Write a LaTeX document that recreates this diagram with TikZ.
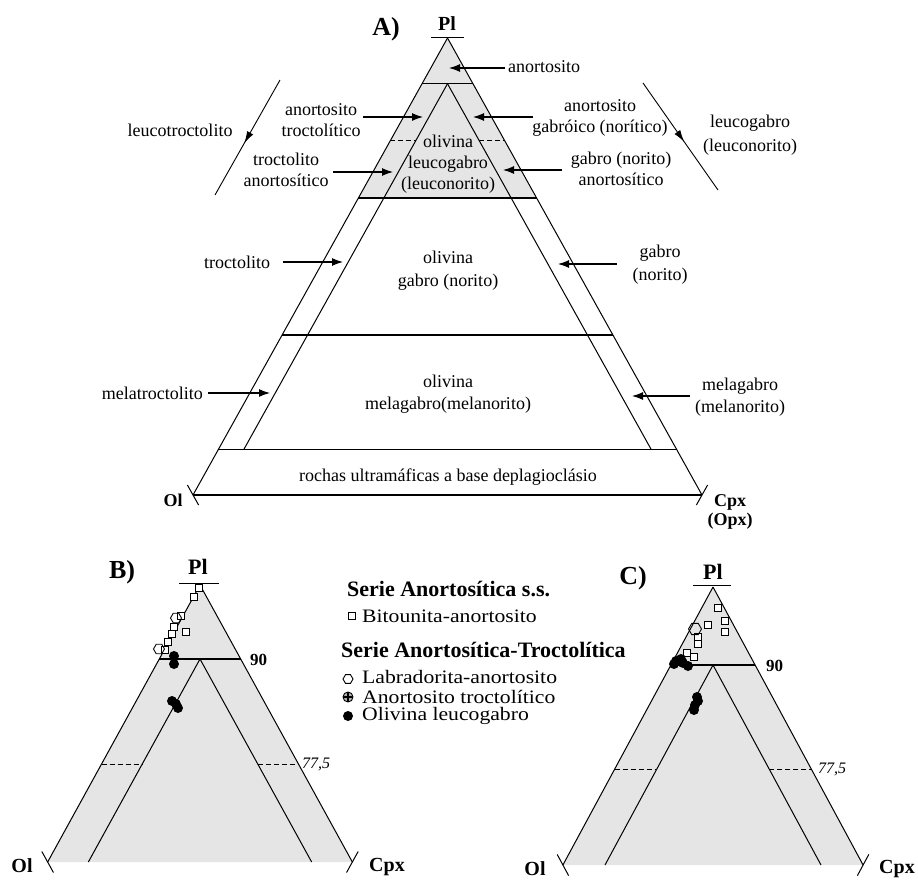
\documentclass[tikz,border=0pt]{standalone}
\usepackage{fontspec}
\setmainfont{Liberation Serif}
\newfontfamily\legfont[FakeStretch=1.14]{Liberation Serif}
\usetikzlibrary{arrows.meta,decorations.markings,shapes.geometric}
\definecolor{fillgray}{RGB}{229,229,229}
\begin{document}
\begin{tikzpicture}[x=1pt,y=-1pt,
  edge/.style={line width=1pt},
  hline/.style={line width=1.2pt},
  dashline/.style={line width=1pt,dash pattern=on 5pt off 3pt},
  ptr/.style={line width=1.1pt,-{Latex[length=11pt,width=8pt]}},
  slant/.style={line width=0.9pt,postaction={decorate},
    decoration={markings,mark=at position 0.55 with {\arrow{Latex[length=12pt,width=7pt]}}}},
  lbl/.style={font=\fontsize{18}{21}\selectfont,align=center,inner sep=0pt},
  corner/.style={font=\bfseries\fontsize{18}{20}\selectfont,align=center,inner sep=0pt},
  bcorner/.style={font=\bfseries\fontsize{20}{22}\selectfont,inner sep=0pt},
  panel/.style={font=\bfseries\fontsize{26}{28}\selectfont,inner sep=0pt},
  val/.style={font=\bfseries\fontsize{17}{19}\selectfont,inner sep=0pt,anchor=west},
  vali/.style={font=\itshape\fontsize{16}{18}\selectfont,inner sep=0pt,anchor=west},
  legh/.style={font=\bfseries\fontsize{22}{24}\selectfont,inner sep=0pt,anchor=west},
  legt/.style={font=\legfont\fontsize{19}{20}\selectfont,inner sep=0pt,anchor=west},
  sq/.style={draw,fill=white,rectangle,minimum size=7.5pt,inner sep=0pt,line width=0.9pt},
  hexm/.style={draw,regular polygon,regular polygon sides=6,minimum size=11pt,inner sep=0pt,line width=0.9pt},
  dotm/.style={circle,fill=black,minimum size=10pt,inner sep=0pt},
  starm/.style={circle,draw,fill=gray!60,minimum size=10pt,inner sep=0pt,line width=0.9pt,
    path picture={\draw[line width=1.6pt]
      (path picture bounding box.north) -- (path picture bounding box.south)
      (path picture bounding box.west) -- (path picture bounding box.east);}}
]
\useasboundingbox (0,0) rectangle (918,881);

% ================= A =================
\coordinate (AP) at (447.5,38);
\coordinate (AO) at (193,495);
\coordinate (AC) at (702,495);
\coordinate (AI) at (447.5,83.7);
\coordinate (AIL) at (243.9,449.3);
\coordinate (AIR) at (651.1,449.3);
\coordinate (A90L) at (422,83.7);
\coordinate (A90R) at (473,83.7);
\coordinate (A775L) at (390.2,140.8);
\coordinate (A775IL) at (415.6,140.8);
\coordinate (A775IR) at (479.4,140.8);
\coordinate (A775R) at (504.8,140.8);
\coordinate (A65L) at (358.4,197.95);
\coordinate (A65R) at (536.6,197.95);
\coordinate (A35L) at (282.1,335.05);
\coordinate (A35R) at (612.9,335.05);
\coordinate (A10L) at (218.4,449.3);
\coordinate (A10R) at (676.6,449.3);

\fill[fillgray] (AP) -- (A65L) -- (A65R) -- cycle;
\draw[edge] (AP) -- (AO);
\draw[edge] (AP) -- (AC);
\draw[hline] (AO) -- (AC);
\draw[edge] (AI) -- (AIL);
\draw[edge] (AI) -- (AIR);
\draw[hline] (A90L) -- (A90R);
\draw[hline] (A65L) -- (A65R);
\draw[hline] (A35L) -- (A35R);
\draw[hline] (A10L) -- (A10R);
\draw[dashline] (A775L) -- (A775IL);
\draw[dashline] (A775IR) -- (A775R);
% corner ticks
\coordinate (tA1) at (431,37); \coordinate (tA2) at (464,37);
\draw[edge] (tA1) -- (tA2);
\coordinate (tA3) at (187.4,485); \coordinate (tA4) at (198.6,505);
\draw[edge] (tA3) -- (tA4);
\coordinate (tA5) at (707.6,485); \coordinate (tA6) at (696.4,505);
\draw[edge] (tA5) -- (tA6);

\node[panel] (lA) at (386,29) {A)};
\node[corner,font=\bfseries\fontsize{20}{22}\selectfont] (plA) at (447,24) {Pl};
\node[corner] (olA) at (173,500) {Ol};
\node[corner,font=\bfseries\fontsize{18}{19}\selectfont] (cpxA) at (730,512) {Cpx\\(Opx)};

% labels and arrows
\node[lbl,anchor=west] (anort) at (508,67) {anortosito};
\coordinate (anortS) at (505,68); \coordinate (anortT) at (449,68);
\draw[ptr] (anortS) -- (anortT);

\node[lbl] (antroc) at (321,120) {anortosito\\troctolítico};
\coordinate (antrocS) at (363,117); \coordinate (antrocT) at (423,117);
\draw[ptr] (antrocS) -- (antrocT);

\node[lbl] (trocan) at (286,170) {troctolito\\anortosítico};
\coordinate (trocanS) at (333,172); \coordinate (trocanT) at (393,172);
\draw[ptr] (trocanS) -- (trocanT);

\node[lbl] (leutroc) at (180,130) {leucotroctolito};
\coordinate (ltS) at (280,80); \coordinate (ltE) at (215,195);
\draw[slant] (ltS) -- (ltE);

\node[lbl] (angab) at (600,118) {anortosito\\gabróico (norítico)};
\coordinate (angabS) at (533,117); \coordinate (angabT) at (473,117);
\draw[ptr] (angabS) -- (angabT);

\node[lbl] (gaban) at (621,169) {gabro (norito)\\anortosítico};
\coordinate (gabanS) at (562,170); \coordinate (gabanT) at (503,170);
\draw[ptr] (gabanS) -- (gabanT);

\node[lbl,font=\fontsize{18}{24}\selectfont] (leugab) at (750,135) {leucogabro\\(leuconorito)};
\coordinate (lgS) at (643,83); \coordinate (lgE) at (718,190);
\draw[slant] (lgS) -- (lgE);

\node[lbl] (olleu) at (448,164) {olivina\\leucogabro\\(leuconorito)};

\node[lbl] (troc) at (237,262) {troctolito};
\coordinate (trocS) at (283,262); \coordinate (trocT) at (343,262);
\draw[ptr] (trocS) -- (trocT);

\node[lbl,font=\fontsize{18}{23}\selectfont] (olgab) at (448,271) {olivina\\gabro (norito)};

\node[lbl,font=\fontsize{18}{23}\selectfont] (gab) at (660,265) {gabro\\(norito)};
\coordinate (gabS) at (617,264); \coordinate (gabT) at (558,264);
\draw[ptr] (gabS) -- (gabT);

\node[lbl,anchor=east] (meltr) at (203,393) {melatroctolito};
\coordinate (meltrS) at (208,393); \coordinate (meltrT) at (270,393);
\draw[ptr] (meltrS) -- (meltrT);

\node[lbl,font=\fontsize{18}{22}\selectfont] (olmel) at (448,394) {olivina\\melagabro(melanorito)};

\node[lbl,font=\fontsize{18}{22}\selectfont] (melg) at (740,397) {melagabro\\(melanorito)};
\coordinate (melgS) at (690,396); \coordinate (melgT) at (632,396);
\draw[ptr] (melgS) -- (melgT);

\node[lbl] (ultra) at (448,477) {rochas ultramáficas a base deplagioclásio};

% ================= B =================
\coordinate (BP) at (200,585);
\coordinate (BO) at (47.65,862);
\coordinate (BC) at (352.35,862);
\coordinate (BI) at (200,659);
\coordinate (B90L) at (159.3,659);
\coordinate (B90R) at (240.7,659);
\coordinate (B775L) at (101.55,764);
\coordinate (B775IL) at (142.25,764);
\coordinate (B775IR) at (257.75,764);
\coordinate (B775R) at (298.45,764);
\coordinate (BIL) at (88.35,862);
\coordinate (BIR) at (311.65,862);
\fill[fillgray] (BP) -- (BO) -- (BC) -- cycle;
\draw[edge] (BP) -- (BO);
\draw[edge] (BP) -- (BC);
\draw[edge] (BI) -- (BIL);
\draw[edge] (BI) -- (BIR);
\draw[hline] (B90L) -- (B90R);
\draw[dashline] (B775L) -- (B775IL);
\draw[dashline] (B775IR) -- (B775R);
\coordinate (tB1) at (179,583); \coordinate (tB2) at (219,583);
\draw[edge] (tB1) -- (tB2);
\coordinate (tB3) at (41.85,851.5); \coordinate (tB4) at (53.45,872.5);
\draw[edge] (tB3) -- (tB4);
\coordinate (tB5) at (358.15,851.5); \coordinate (tB6) at (346.55,872.5);
\draw[edge] (tB5) -- (tB6);
\node[panel] (lB) at (122,572) {B)};
\node[bcorner,font=\bfseries\fontsize{22}{24}\selectfont] (plB) at (198,567) {Pl};
\node[bcorner] (olB) at (22,866) {Ol};
\node[bcorner] (cpxB) at (387,867) {Cpx};
\node[val] (v90B) at (250,660) {90};
\node[vali] (v77B) at (302,764) {77,5};

% data B
\foreach \x/\y [count=\i] in {199/588,194/597,181/616,186/632,174/627,172/634,168/642,165/650}
  \node[sq] (bs\i) at (\x,\y) {};
\foreach \x/\y [count=\i] in {176/618,159/649}
  \node[hexm] (bh\i) at (\x,\y) {};
\foreach \x/\y [count=\i] in {174/656,174/664,172/701,178/708,176/704}
  \node[dotm] (bd\i) at (\x,\y) {};

% ================= C =================
\coordinate (CP) at (713,587);
\coordinate (CO) at (562.9,865);
\coordinate (CC) at (863.1,865);
\coordinate (CI) at (713,665);
\coordinate (C90L) at (670.9,665);
\coordinate (C90R) at (755.1,665);
\coordinate (C775L) at (614.7,769);
\coordinate (C775IL) at (656.8,769);
\coordinate (C775IR) at (769.2,769);
\coordinate (C775R) at (811.3,769);
\coordinate (CIL) at (605,865);
\coordinate (CIR) at (821,865);
\fill[fillgray] (CP) -- (CO) -- (CC) -- cycle;
\draw[edge] (CP) -- (CO);
\draw[edge] (CP) -- (CC);
\draw[edge] (CI) -- (CIL);
\draw[edge] (CI) -- (CIR);
\draw[hline] (C90L) -- (C90R);
\draw[dashline] (C775L) -- (C775IL);
\draw[dashline] (C775IR) -- (C775R);
\coordinate (tC1) at (693,585); \coordinate (tC2) at (731,585);
\draw[edge] (tC1) -- (tC2);
\coordinate (tC3) at (557.2,854.4); \coordinate (tC4) at (568.6,875.6);
\draw[edge] (tC3) -- (tC4);
\coordinate (tC5) at (868.8,854.4); \coordinate (tC6) at (857.4,875.6);
\draw[edge] (tC5) -- (tC6);
\node[panel] (lC) at (633,578) {C)};
\node[bcorner,font=\bfseries\fontsize{22}{24}\selectfont] (plC) at (713,572) {Pl};
\node[bcorner] (olC) at (535,869) {Ol};
\node[bcorner] (cpxC) at (897,869) {Cpx};
\node[val] (v90C) at (766,666) {90};
\node[vali] (v77C) at (818,769) {77,5};

% data C
\foreach \x/\y [count=\i] in {718/608,725/621,725/632,708/625,698/637,698/644,687/653,694/657}
  \node[sq] (cs\i) at (\x,\y) {};
\foreach \x/\y [count=\i] in {695/629}
  \node[hexm,minimum size=13pt] (ch\i) at (\x,\y) {};
\foreach \x/\y [count=\i] in {676/661,683/663,688/666,674/664,681/659,697/697,695/705,698/701,694/710}
  \node[dotm] (cd\i) at (\x,\y) {};

% ================= legend =================
\node[legh] (lh1) at (347,589) {Serie Anortosítica s.s.};
\node[sq] (lm1) at (352,616) {};
\node[legt] (lt1) at (362,616) {Bitounita-anortosito};
\node[legh] (lh2) at (341,650) {Serie Anortosítica-Troctolítica};
\node[hexm,minimum size=10pt] (lm2) at (348,679) {};
\node[legt] (lt2) at (362,677) {Labradorita-anortosito};
\node[starm] (lm3) at (348,697) {};
\node[legt] (lt3) at (362,696.5) {Anortosito troctolítico};
\node[dotm] (lm4) at (348,716) {};
\node[legt] (lt4) at (362,716) {Olivina leucogabro};
\end{tikzpicture}
\end{document}
